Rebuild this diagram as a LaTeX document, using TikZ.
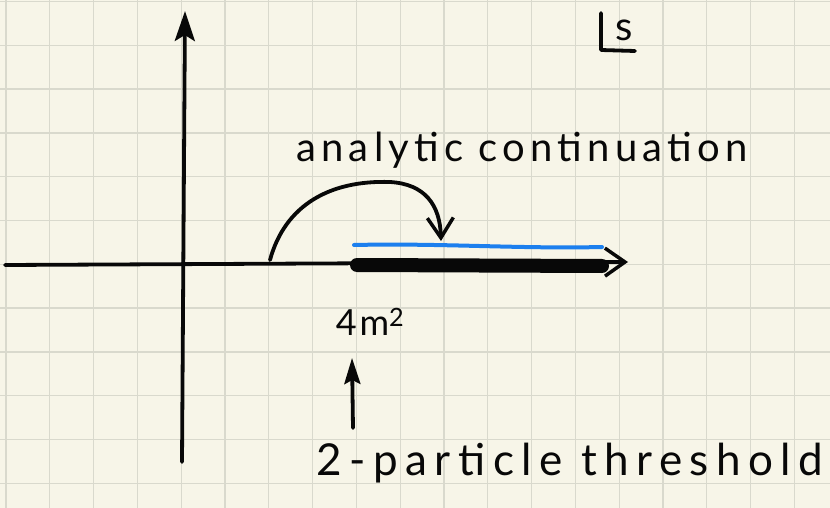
\documentclass[tikz,border=0pt]{standalone}
\usepackage{fontspec}
\setmainfont{Lato}
\newfontfamily\handA[LetterSpace=13]{Lato}
\newfontfamily\handB[LetterSpace=17]{Lato}
\newfontfamily\handC[LetterSpace=8]{Lato}
\usetikzlibrary{arrows.meta}
\definecolor{paper}{HTML}{F7F5E8}
\definecolor{gridc}{HTML}{D9D9CD}
\definecolor{ink}{HTML}{080808}
\definecolor{bluecut}{HTML}{1C7FEE}
\tikzset{
  pen/.style={draw=ink, line width=3.8pt, line cap=round, line join=round},
  hand/.style={text=ink, inner sep=0pt},
  barb/.style={-{Straight Barb[length=20pt,width=28pt,line width=3.5pt]}},
  solidtip/.style={-{Stealth[length=30pt,width=20pt,inset=6pt]}},
}
\begin{document}
\begin{tikzpicture}[x=1pt,y=-1pt]
\useasboundingbox (0,0) rectangle (830,508);
\fill[paper] (0,0) rectangle (830,508);
% grid
\foreach \i in {0,...,19} {\draw[gridc, line width=1.3pt] ({6+43.8*\i},0) -- ({6+43.8*\i},508);}
\foreach \j in {0,...,11} {\draw[gridc, line width=1.3pt] (0,{1.5+43.8*\j}) -- (830,{1.5+43.8*\j});}
% axes
\coordinate (ybot) at (182,462);
\coordinate (ytop) at (185,11);
\coordinate (xleft) at (5,265);
\coordinate (xright) at (628,262);
\draw[pen, solidtip] (ybot) -- (ytop);
\draw[pen, barb] (xleft) -- (xright);
% branch cut
\coordinate (cutA) at (357,265);
\coordinate (cutB) at (602,266);
\draw[draw=ink, line width=14pt, line cap=round] (cutA) -- (cutB);
% blue line
\coordinate (blA) at (354,245);
\coordinate (blB) at (602,247);
\draw[draw=bluecut, line width=4pt, line cap=round] (blA) .. controls (440,243) and (520,249) .. (blB);
% analytic continuation arrow
\coordinate (acS) at (270,260);
\coordinate (acE) at (441,241);
\draw[pen, -{Straight Barb[length=20pt,width=26pt,line width=3.5pt]}] (acS) .. controls (285,205) and (330,180) .. (390,182) .. controls (425,184) and (440,205) .. (acE);
\node[hand, font=\handA\fontsize{40}{42}\selectfont] (ac) at (522,150) {analytic continuation};
% L s symbol
\coordinate (La) at (601,13);
\coordinate (Lb) at (601,50);
\coordinate (Lc) at (635,51);
\draw[pen] (La) -- (Lb) -- (Lc);
\node[hand, font=\fontsize{40}{42}\selectfont] (sl) at (624,30) {s};
% 4m^2
\node[hand, font=\handC\fontsize{36}{38}\selectfont] (fm) at (370,322) {4m\textsuperscript{2}};
% threshold arrow
\coordinate (thB) at (353,428);
\coordinate (thT) at (352,358);
\draw[pen, -{Stealth[length=26pt,width=16pt,inset=4pt]}] (thB) -- (thT);
\node[hand, font=\handB\fontsize{44}{46}\selectfont] (th) at (570,463) {2-particle threshold};
\end{tikzpicture}
\end{document}
